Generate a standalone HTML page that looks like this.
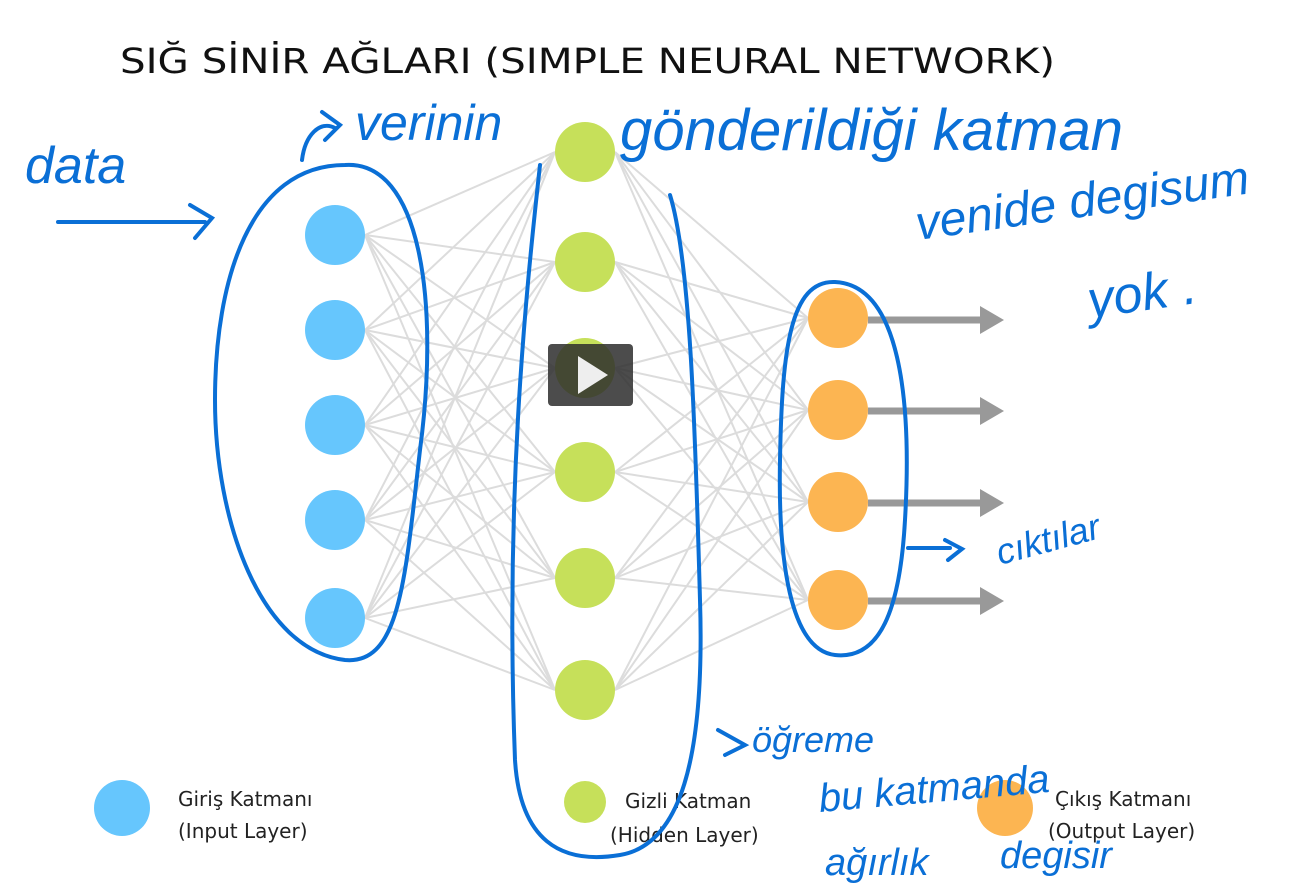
<!DOCTYPE html>
<html><head><meta charset="utf-8"><style>
body{margin:0;background:#fff;width:1298px;height:885px;overflow:hidden}
svg{display:block}
.t{font-family:"DejaVu Sans","Liberation Sans",sans-serif}
.h{font-family:"Liberation Sans",sans-serif;fill:#0a6fd6;font-style:italic}
</style></head><body>
<svg width="1298" height="885" viewBox="0 0 1298 885">
<text x="120" y="73" class="t" font-size="35" fill="#111" textLength="935" lengthAdjust="spacingAndGlyphs">SIĞ SİNİR AĞLARI (SIMPLE NEURAL NETWORK)</text>
<g stroke="#dcdcdc" stroke-width="2" id="edges"></g>
<g id="nodes"></g>
<g fill="#999" stroke="#999">
<line x1="868" y1="320" x2="985" y2="320" stroke-width="7"/><polygon points="980,306 1004,320 980,334" stroke="none"/>
<line x1="868" y1="411" x2="985" y2="411" stroke-width="7"/><polygon points="980,397 1004,411 980,425" stroke="none"/>
<line x1="868" y1="503" x2="985" y2="503" stroke-width="7"/><polygon points="980,489 1004,503 980,517" stroke="none"/>
<line x1="868" y1="601" x2="985" y2="601" stroke-width="7"/><polygon points="980,587 1004,601 980,615" stroke="none"/>
</g>
<rect x="548" y="344" width="85" height="62" rx="4" fill="rgba(45,45,45,0.85)"/>
<polygon points="578,356 578,394 608,375" fill="#eee"/>
<circle cx="122" cy="808" r="28" fill="#66c6fd"/>
<circle cx="585" cy="802" r="21" fill="#c6e05a"/>
<circle cx="1005" cy="808" r="28" fill="#fcb552"/>
<text x="178" y="806" class="t" font-size="20" fill="#222">Giriş Katmanı</text>
<text x="178" y="838" class="t" font-size="20" fill="#222">(Input Layer)</text>
<text x="625" y="808" class="t" font-size="20" fill="#222">Gizli Katman</text>
<text x="610" y="842" class="t" font-size="20" fill="#222">(Hidden Layer)</text>
<text x="1055" y="806" class="t" font-size="20" fill="#222">Çıkış Katmanı</text>
<text x="1048" y="838" class="t" font-size="20" fill="#222">(Output Layer)</text>
<g fill="none" stroke="#0a6fd6" stroke-width="4" stroke-linecap="round">
<path d="M345,165 C420,160 440,300 420,450 C405,580 400,665 345,660 C260,650 215,520 215,400 C215,280 250,165 345,165Z"/>
<path d="M540,165 C525,300 505,500 515,760 C520,840 560,865 620,855 C680,845 705,760 700,600 C695,420 690,260 670,195"/>
<path d="M835,282 C900,285 912,400 905,520 C900,610 880,660 835,655 C790,650 778,560 780,460 C782,350 790,280 835,282Z"/>
<path d="M58,222 L205,222 M190,205 L212,218 L195,238"/>
<path d="M302,160 C305,135 320,120 335,128 M322,112 L340,125 L325,140"/>
<path d="M908,548 L950,548 M945,540 L962,549 L948,560"/>
<path d="M718,730 L745,745 L725,755"/>
</g>
<text x="25" y="183" class="h" font-size="52">data</text>
<text x="355" y="140" class="h" font-size="50">verinin</text>
<text x="620" y="150" class="h" font-size="58">gönderildiği katman</text>
<text x="918" y="240" class="h" font-size="48" transform="rotate(-8 918 240)">venide degisum</text>
<text x="1090" y="318" class="h" font-size="52" transform="rotate(-8 1090 318)">yok .</text>
<text x="1000" y="565" class="h" font-size="36" transform="rotate(-15 1000 565)">cıktılar</text>
<text x="752" y="752" class="h" font-size="36">öğreme</text>
<text x="820" y="812" class="h" font-size="40" transform="rotate(-5 820 812)">bu katmanda</text>
<text x="825" y="875" class="h" font-size="38">ağırlık</text>
<text x="1000" y="868" class="h" font-size="38">degisir</text>
</svg>
<script>
var ns="http://www.w3.org/2000/svg";
var inp=[235,330,425,520,618],hid=[152,262,368,472,578,690],out=[318,410,502,600];
var e=document.getElementById("edges"),n=document.getElementById("nodes");
function L(a,b,c,d){var l=document.createElementNS(ns,"line");l.setAttribute("x1",a);l.setAttribute("y1",b);l.setAttribute("x2",c);l.setAttribute("y2",d);e.appendChild(l);}
inp.forEach(function(a){hid.forEach(function(b){L(365,a,555,b);});});
hid.forEach(function(a){out.forEach(function(b){L(615,a,808,b);});});
function C(x,y,r,f){var c=document.createElementNS(ns,"circle");c.setAttribute("cx",x);c.setAttribute("cy",y);c.setAttribute("r",r);c.setAttribute("fill",f);n.appendChild(c);}
inp.forEach(function(y){C(335,y,30,"#66c6fd");});
hid.forEach(function(y){C(585,y,30,"#c6e05a");});
out.forEach(function(y){C(838,y,30,"#fcb552");});
</script>
</body></html>
